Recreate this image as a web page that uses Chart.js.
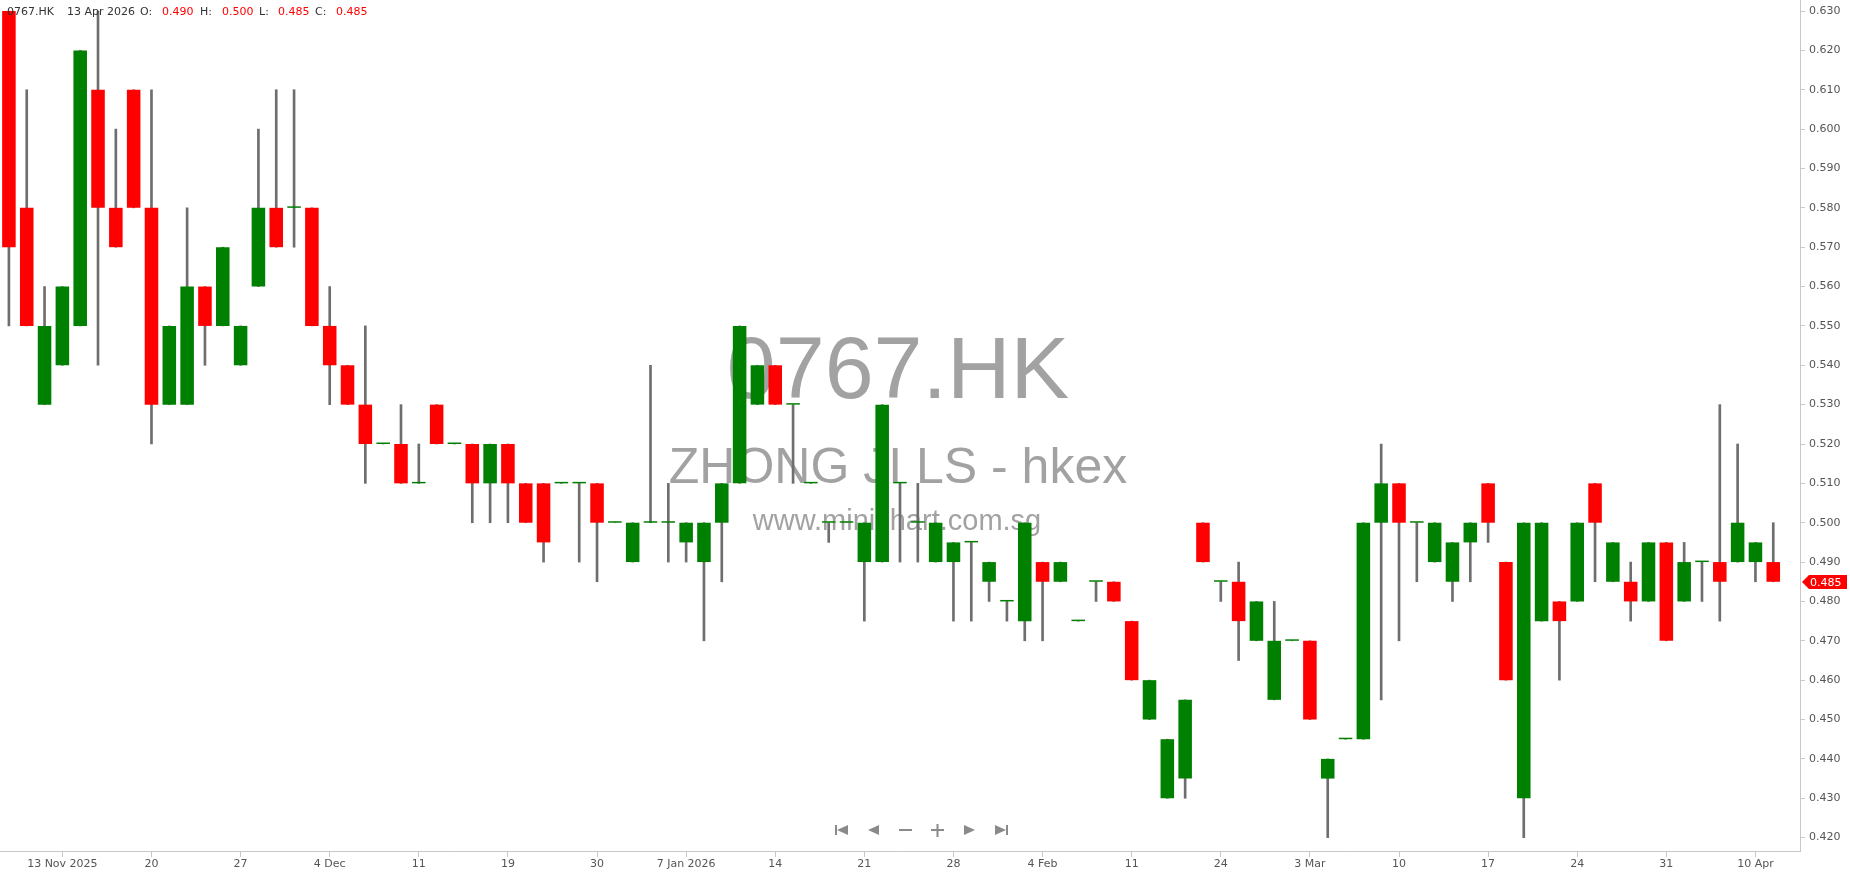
<!DOCTYPE html>
<html>
<head>
<meta charset="utf-8">
<title>0767.HK</title>
<script src="https://cdn.jsdelivr.net/npm/chart.js@4.4.1/dist/chart.umd.min.js"></script>
<style>
  html, body { margin: 0; padding: 0; background: #fff; overflow: hidden; }
  #wrap { position: relative; width: 1850px; height: 874px; }
</style>
</head>
<body>
<div id="wrap"><canvas id="candle-chart" width="1850" height="874"></canvas></div>
<script>

// daily candles, 10 Nov 2025 .. 13 Apr 2026 =====================================

const open = [
  0.630, 0.580, 0.530, 0.540, 0.550, 0.610, 0.580, 0.610, 0.580, 0.530,
  0.530, 0.560, 0.550, 0.540, 0.560, 0.580, 0.580, 0.580, 0.550, 0.540,
  0.530, 0.520, 0.520, 0.510, 0.530, 0.520, 0.520, 0.510, 0.520, 0.510,
  0.510, 0.510, 0.510, 0.510, 0.500, 0.490, 0.500, 0.500, 0.495, 0.490,
  0.500, 0.510, 0.530, 0.540, 0.530, 0.510, 0.500, 0.500, 0.490, 0.490,
  0.510, 0.500, 0.490, 0.490, 0.495, 0.485, 0.480, 0.475, 0.490, 0.485,
  0.475, 0.485, 0.485, 0.475, 0.450, 0.430, 0.435, 0.500, 0.485, 0.485,
  0.470, 0.455, 0.470, 0.470, 0.435, 0.445, 0.445, 0.500, 0.510, 0.500,
  0.490, 0.485, 0.495, 0.510, 0.490, 0.430, 0.475, 0.480, 0.480, 0.510,
  0.485, 0.485, 0.480, 0.495, 0.480, 0.490, 0.490, 0.490, 0.490, 0.490
];
const high = [
  0.630, 0.610, 0.560, 0.560, 0.620, 0.630, 0.600, 0.610, 0.610, 0.550,
  0.580, 0.560, 0.570, 0.550, 0.600, 0.610, 0.610, 0.580, 0.560, 0.540,
  0.550, 0.520, 0.530, 0.520, 0.530, 0.520, 0.520, 0.520, 0.520, 0.510,
  0.510, 0.510, 0.510, 0.510, 0.500, 0.500, 0.540, 0.510, 0.500, 0.500,
  0.510, 0.550, 0.540, 0.540, 0.530, 0.510, 0.500, 0.500, 0.500, 0.530,
  0.510, 0.510, 0.500, 0.495, 0.495, 0.490, 0.480, 0.500, 0.490, 0.490,
  0.475, 0.485, 0.485, 0.475, 0.460, 0.445, 0.455, 0.500, 0.485, 0.490,
  0.480, 0.480, 0.470, 0.470, 0.440, 0.445, 0.500, 0.520, 0.510, 0.500,
  0.500, 0.495, 0.500, 0.510, 0.490, 0.500, 0.500, 0.480, 0.500, 0.510,
  0.495, 0.490, 0.495, 0.495, 0.495, 0.490, 0.530, 0.520, 0.495, 0.500
];
const low = [
  0.550, 0.550, 0.530, 0.540, 0.550, 0.540, 0.570, 0.580, 0.520, 0.530,
  0.530, 0.540, 0.550, 0.540, 0.560, 0.570, 0.570, 0.550, 0.530, 0.530,
  0.510, 0.520, 0.510, 0.510, 0.520, 0.520, 0.500, 0.500, 0.500, 0.500,
  0.490, 0.510, 0.490, 0.485, 0.500, 0.490, 0.500, 0.490, 0.490, 0.470,
  0.485, 0.510, 0.530, 0.530, 0.510, 0.510, 0.495, 0.500, 0.475, 0.490,
  0.490, 0.490, 0.490, 0.475, 0.475, 0.480, 0.475, 0.470, 0.470, 0.485,
  0.475, 0.480, 0.480, 0.460, 0.450, 0.430, 0.430, 0.490, 0.480, 0.465,
  0.470, 0.455, 0.470, 0.450, 0.420, 0.445, 0.445, 0.455, 0.470, 0.485,
  0.490, 0.480, 0.485, 0.495, 0.460, 0.420, 0.475, 0.460, 0.480, 0.485,
  0.485, 0.475, 0.480, 0.470, 0.480, 0.480, 0.475, 0.490, 0.485, 0.485
];
const close = [
  0.570, 0.550, 0.550, 0.560, 0.620, 0.580, 0.570, 0.580, 0.530, 0.550,
  0.560, 0.550, 0.570, 0.550, 0.580, 0.570, 0.580, 0.550, 0.540, 0.530,
  0.520, 0.520, 0.510, 0.510, 0.520, 0.520, 0.510, 0.520, 0.510, 0.500,
  0.495, 0.510, 0.510, 0.500, 0.500, 0.500, 0.500, 0.500, 0.500, 0.500,
  0.510, 0.550, 0.540, 0.530, 0.530, 0.510, 0.500, 0.500, 0.500, 0.530,
  0.510, 0.500, 0.500, 0.495, 0.495, 0.490, 0.480, 0.500, 0.485, 0.490,
  0.475, 0.485, 0.480, 0.460, 0.460, 0.445, 0.455, 0.490, 0.485, 0.475,
  0.480, 0.470, 0.470, 0.450, 0.440, 0.445, 0.500, 0.510, 0.500, 0.500,
  0.500, 0.495, 0.500, 0.500, 0.460, 0.500, 0.500, 0.475, 0.500, 0.500,
  0.495, 0.480, 0.495, 0.470, 0.490, 0.490, 0.485, 0.500, 0.495, 0.485
];

// x axis labels sit on these candle indexes
const tickAt = [3, 8, 13, 18, 23, 28, 33, 38, 43, 48, 53, 58, 63, 68, 73, 78, 83, 88, 93, 98];
const tickText = ['13 Nov 2025', '20', '27', '4 Dec', '11', '19', '30', '7 Jan 2026', '14', '21',
  '28', '4 Feb', '11', '24', '3 Mar', '10', '17', '24', '31', '10 Apr'];

const symbol = '0767.HK';
const lastDate = '13 Apr 2026';
const stockName = 'ZHONG JI LS - hkex';
const site = 'www.minichart.com.sg';

const GREEN = '#008000';
const RED = '#ff0000';
const AXIS = '#c8c8c8';
const TEXT = '#555555';

// one spare slot on the right, like the original
const slots = open.map((_, i) => i).concat([open.length]);
const bodyColors = open.map((o, i) => close[i] >= o ? GREEN : RED);

const last = open.length - 1;


// overlay: watermark, header line, price tag, nav buttons ======================

const overlay = {
  id: 'overlay',
  beforeDatasetsDraw(chart) {
    const ctx = chart.ctx;
    ctx.save();
    ctx.fillStyle = '#a2a2a2';
    ctx.textAlign = 'center';
    ctx.textBaseline = 'alphabetic';
    ctx.font = '88px "Liberation Sans", Arial, sans-serif';
    ctx.fillText(symbol, 898, 398);
    ctx.font = '50px "Liberation Sans", Arial, sans-serif';
    ctx.fillText(stockName, 898, 483);
    ctx.font = '29px "Liberation Sans", Arial, sans-serif';
    ctx.fillText(site, 897, 530);
    ctx.restore();
  },
  afterDraw(chart) {
    const ctx = chart.ctx;
    const y = chart.scales.y;
    ctx.save();

    // header
    ctx.font = '11px "DejaVu Sans", sans-serif';
    ctx.textBaseline = 'alphabetic';
    ctx.textAlign = 'left';
    const parts = [
      [symbol, 7, '#333'], [lastDate, 67, '#333'],
      ['O:', 140, '#333'], [open[last].toFixed(3), 162, RED],
      ['H:', 200, '#333'], [high[last].toFixed(3), 222, RED],
      ['L:', 259, '#333'], [low[last].toFixed(3), 278, RED],
      ['C:', 315, '#333'], [close[last].toFixed(3), 336, RED]
    ];
    parts.forEach(p => {
      ctx.fillStyle = p[2];
      ctx.fillText(p[0], p[1], 15);
    });

    // last price tag on the y axis
    const py = Math.round(y.getPixelForValue(close[last]));
    ctx.fillStyle = close[last] >= open[last] ? GREEN : RED;
    ctx.beginPath();
    ctx.moveTo(1802, py);
    ctx.lineTo(1809, py - 7);
    ctx.lineTo(1847, py - 7);
    ctx.lineTo(1847, py + 7);
    ctx.lineTo(1809, py + 7);
    ctx.closePath();
    ctx.fill();
    ctx.fillStyle = '#fff';
    ctx.textBaseline = 'middle';
    ctx.fillText(close[last].toFixed(3), 1810, py + 1);

    // nav buttons
    const ny = 830;
    ctx.fillStyle = '#8a8a8a';
    ctx.fillRect(835, ny - 5, 2, 10);
    tri(ctx, 848, 837, ny);
    tri(ctx, 879, 868, ny);
    ctx.fillRect(899, ny - 1, 13, 2);
    ctx.fillRect(931, ny - 1, 13, 2);
    ctx.fillRect(936.5, ny - 6, 2, 13);
    tri(ctx, 964, 975, ny);
    tri(ctx, 995, 1006, ny);
    ctx.fillRect(1006, ny - 5, 2, 10);

    ctx.restore();
  }
};

function tri(ctx, xBase, xTip, cy) {
  ctx.beginPath();
  ctx.moveTo(xBase, cy - 5);
  ctx.lineTo(xTip, cy);
  ctx.lineTo(xBase, cy + 5);
  ctx.closePath();
  ctx.fill();
}


// chart =========================================================================

const candleChart = new Chart(document.getElementById('candle-chart'), {
  type: 'bar',
  data: {
    labels: slots,
    datasets: [{
      // bodies (drawn on top)
      data: open.map((o, i) => [o, close[i]]),
      backgroundColor: bodyColors,
      borderWidth: 0,
      barPercentage: 0.76,
      categoryPercentage: 1,
      minBarLength: 1.5,
      grouped: false
    }, {
      // wicks
      data: low.map((l, i) => [l, high[i]]),
      backgroundColor: '#6e6e6e',
      borderWidth: 0,
      barThickness: 2,
      grouped: false
    }]
  },
  options: {
    responsive: false,
    animation: false,
    layout: { padding: 0 },
    plugins: {
      legend: { display: false },
      tooltip: { enabled: false }
    },
    scales: {
      x: {
        type: 'category',
        offset: true,
        border: { display: true, color: AXIS },
        grid: {
          offset: false,
          drawOnChartArea: false,
          drawTicks: true,
          tickLength: 6,
          color: ctx => tickAt.indexOf(ctx.index) >= 0 ? AXIS : 'rgba(0,0,0,0)'
        },
        ticks: {
          autoSkip: false,
          maxRotation: 0,
          minRotation: 0,
          padding: 1,
          color: TEXT,
          font: { family: '"DejaVu Sans", sans-serif', size: 11 },
          callback: (val, idx) => {
            const k = tickAt.indexOf(idx);
            return k >= 0 ? tickText[k] : '';
          }
        },
        afterFit: scale => {
          scale.height = 23;
          scale.paddingLeft = 0;
          scale.paddingRight = 0;
        }
      },
      y: {
        position: 'right',
        min: 0.4166,
        max: 0.6328,
        border: { display: true, color: AXIS },
        grid: {
          drawOnChartArea: false,
          tickLength: 5,
          color: AXIS
        },
        ticks: {
          stepSize: 0.01,
          includeBounds: false,
          padding: 4,
          color: TEXT,
          font: { family: '"DejaVu Sans", sans-serif', size: 11 },
          callback: v => v.toFixed(3)
        },
        afterFit: scale => {
          scale.width = 50;
          scale.paddingTop = 0;
          scale.paddingBottom = 0;
        }
      }
    }
  },
  plugins: [overlay]
});

</script>
</body>
</html>
